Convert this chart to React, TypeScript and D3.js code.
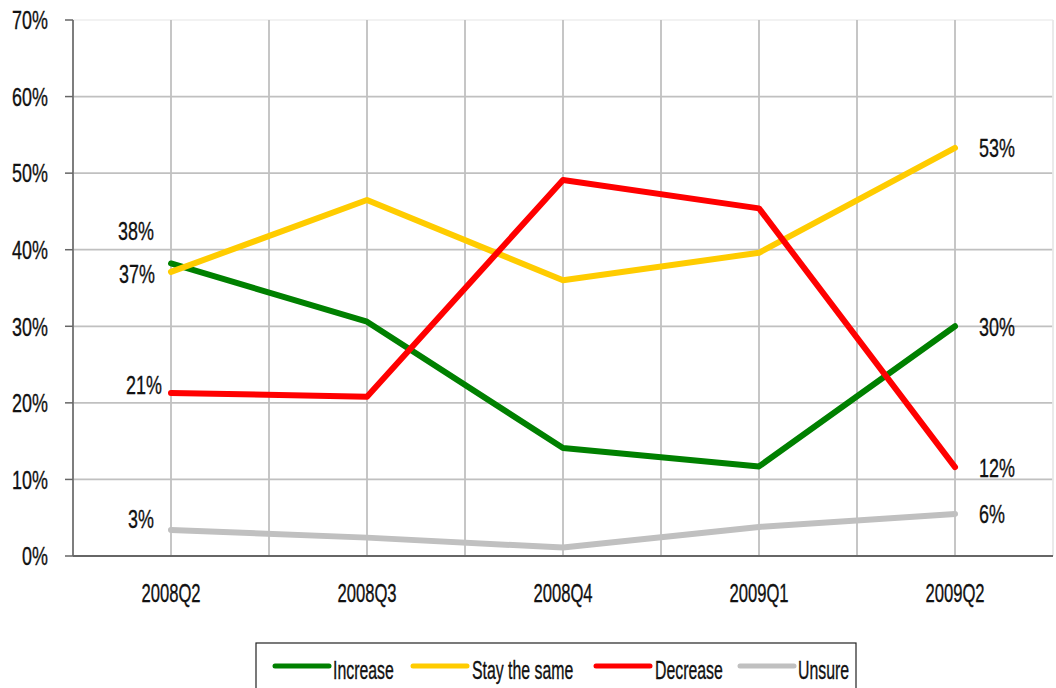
import React from "react";
import * as d3 from "d3";

const categories = ["2008Q2", "2008Q3", "2008Q4", "2009Q1", "2009Q2"];
const increase = [38.2, 30.6, 14.1, 11.7, 30.0];
const stayTheSame = [37.1, 46.5, 36.0, 39.6, 53.3];
const decrease = [21.3, 20.8, 49.1, 45.4, 11.6];
const unsure = [3.4, 2.4, 1.1, 3.8, 5.5];
const seriesNames = ["Increase", "Stay the same", "Decrease", "Unsure"];
const seriesColors = ["#008000", "#FFCC00", "#FF0000", "#C0C0C0"];
const yTicks = [0, 10, 20, 30, 40, 50, 60, 70];
// data labels: first point label text, last point label text
const firstLabels = ["38%", "37%", "21%", "3%"];
const lastLabels = ["30%", "53%", "12%", "6%"];

const W = 1056;
const H = 688;
const FONT = "'Liberation Sans', Arial, sans-serif";

export default function App() {
  const left = 73;
  const right = 1053;
  const top = 20;
  const bottom = 556;
  const x = d3.scalePoint<string>().domain(categories).range([left, right]).padding(0.5);
  const y = d3.scaleLinear().domain([0, 70]).range([bottom, top]);
  const allSeries = [increase, stayTheSame, decrease, unsure];
  const line = d3
    .line<number>()
    .x((_, i) => x(categories[i]) as number)
    .y((d) => y(d));

  const step = x.step() / 2;
  const vGrid = d3.range(0, Math.round((right - left) / step) + 1).map((k) => left + k * step);

  // label offsets per series for first point (dx to right edge, dy to baseline)
  const firstOffsets = [
    { dx: -17, dy: -23 },
    { dx: -16, dy: 11 },
    { dx: -9, dy: 1.5 },
    { dx: -17, dy: -2 },
  ];

  const legendItems = [
    { lx: 275, tx: 333 },
    { lx: 413, tx: 472 },
    { lx: 596, tx: 655 },
    { lx: 740, tx: 798 },
  ];

  const numScale = 0.69;
  const textStyle = { fill: "#111", stroke: "#111", strokeWidth: 0.35 };

  return (
    <svg
      width={W}
      height={H}
      style={{ position: "absolute", left: 0, top: 0, background: "#fff" }}
      fontFamily={FONT}
    >
      <rect x={0} y={0} width={W} height={H} fill="#fff" />
      {/* horizontal gridlines */}
      {yTicks.map((t) => (
        <line
          key={"h" + t}
          x1={left}
          x2={right}
          y1={y(t)}
          y2={y(t)}
          stroke={t === 70 ? "#eeeeee" : "#c0c0c0"}
          strokeWidth={t === 70 ? 1.5 : 1.8}
        />
      ))}
      {/* vertical gridlines */}
      {vGrid.map((gx, i) => (
        <line
          key={"v" + i}
          x1={gx}
          x2={gx}
          y1={top}
          y2={bottom}
          stroke={i === vGrid.length - 1 ? "#e8e8e8" : "#c0c0c0"}
          strokeWidth={1.8}
        />
      ))}
      {/* axes */}
      <line x1={left} x2={left} y1={top} y2={bottom} stroke="#666" strokeWidth={1.5} />
      <line x1={left} x2={right} y1={bottom} y2={bottom} stroke="#666" strokeWidth={1.8} />
      {yTicks.map((t) => (
        <g key={"yt" + t}>
          <line x1={left - 8} x2={left} y1={y(t)} y2={y(t)} stroke="#666" strokeWidth={1.5} />
          <text
            transform={`translate(48,${y(t) + 9.3}) scale(${numScale},1)`}
            textAnchor="end"
            fontSize={26}
            style={textStyle}
          >
            {t + "%"}
          </text>
        </g>
      ))}
      {categories.map((c) => (
        <text
          key={c}
          transform={`translate(${x(c)},602) scale(0.64,1)`}
          textAnchor="middle"
          fontSize={26}
          style={textStyle}
        >
          {c}
        </text>
      ))}
      {/* series lines */}
      {allSeries.map((s, i) => (
        <path
          key={seriesNames[i]}
          d={line(s) as string}
          fill="none"
          stroke={seriesColors[i]}
          strokeWidth={6}
          strokeLinecap="round"
          strokeLinejoin="round"
        />
      ))}
      {/* data labels */}
      {allSeries.map((s, i) => (
        <g key={"lab" + i}>
          <text
            transform={`translate(${(x(categories[0]) as number) + firstOffsets[i].dx},${
              y(s[0]) + firstOffsets[i].dy
            }) scale(${numScale},1)`}
            textAnchor="end"
            fontSize={26}
            style={textStyle}
          >
            {firstLabels[i]}
          </text>
          <text
            transform={`translate(${(x(categories[categories.length - 1]) as number) + 24},${
              y(s[s.length - 1]) + 9.5
            }) scale(${numScale},1)`}
            textAnchor="start"
            fontSize={26}
            style={textStyle}
          >
            {lastLabels[i]}
          </text>
        </g>
      ))}
      {/* legend */}
      <rect x={256} y={643} width={600} height={60} fill="#fff" stroke="#222" strokeWidth={1.2} />
      {seriesNames.map((n, i) => (
        <g key={"lg" + n}>
          <line
            x1={legendItems[i].lx}
            x2={legendItems[i].lx + 54}
            y1={666}
            y2={666}
            stroke={seriesColors[i]}
            strokeWidth={5}
            strokeLinecap="round"
          />
          <text
            transform={`translate(${legendItems[i].tx},679) scale(0.61,1)`}
            fontSize={26}
            style={textStyle}
          >
            {n}
          </text>
        </g>
      ))}
    </svg>
  );
}
